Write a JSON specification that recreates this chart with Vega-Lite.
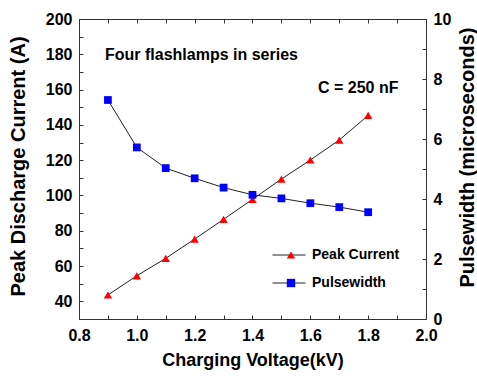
{
  "$schema": "https://vega.github.io/schema/vega-lite/v6.json",
  "width": 347,
  "height": 300,
  "autosize": {"type": "none"},
  "padding": {"left": 79, "top": 19, "right": 51, "bottom": 62},
  "background": "white",
  "config": {
    "view": {"stroke": null},
    "font": "Liberation Sans",
    "axis": {
      "domainColor": "#333333",
      "domainWidth": 1,
      "tickColor": "#333333",
      "tickOpacity": 1,
      "tickWidth": 1,
      "grid": false,
      "labelFont": "Liberation Sans",
      "labelFontSize": 16,
      "labelFontWeight": "bold",
      "labelColor": "black",
      "titleFont": "Liberation Sans",
      "titleFontWeight": "bold",
      "titleColor": "black"
    },
    "legend": {
      "labelFont": "Liberation Sans",
      "labelFontSize": 14,
      "labelFontWeight": "bold",
      "labelColor": "black"
    }
  },
  "data": {
    "values": [
      {"v": 0.9, "series": "Peak Current", "val": 43.6},
      {"v": 1.0, "series": "Peak Current", "val": 54.5},
      {"v": 1.1, "series": "Peak Current", "val": 64.4},
      {"v": 1.2, "series": "Peak Current", "val": 75.3},
      {"v": 1.3, "series": "Peak Current", "val": 86.5},
      {"v": 1.4, "series": "Peak Current", "val": 97.8},
      {"v": 1.5, "series": "Peak Current", "val": 109.3},
      {"v": 1.6, "series": "Peak Current", "val": 120.1},
      {"v": 1.7, "series": "Peak Current", "val": 131.4},
      {"v": 1.8, "series": "Peak Current", "val": 145.4},
      {"v": 0.9, "series": "Pulsewidth", "val": 7.3},
      {"v": 1.0, "series": "Pulsewidth", "val": 5.72},
      {"v": 1.1, "series": "Pulsewidth", "val": 5.03},
      {"v": 1.2, "series": "Pulsewidth", "val": 4.69},
      {"v": 1.3, "series": "Pulsewidth", "val": 4.38},
      {"v": 1.4, "series": "Pulsewidth", "val": 4.14},
      {"v": 1.5, "series": "Pulsewidth", "val": 4.02},
      {"v": 1.6, "series": "Pulsewidth", "val": 3.86},
      {"v": 1.7, "series": "Pulsewidth", "val": 3.73},
      {"v": 1.8, "series": "Pulsewidth", "val": 3.56}
    ]
  },
  "layer": [
    {
      "transform": [{"filter": "datum.series == 'Peak Current'"}],
      "mark": {"type": "line", "strokeWidth": 1},
      "encoding": {
        "x": {
          "field": "v", "type": "quantitative",
          "scale": {"domain": [0.8, 2.0], "nice": false, "zero": false},
          "axis": {
            "orient": "bottom",
            "title": "Charging Voltage(kV)",
            "titleFontSize": 18,
            "titleBaseline": "alphabetic",
            "titleY": 46,
            "values": [0.8, 1.0, 1.2, 1.4, 1.6, 1.8, 2.0],
            "format": ".1f",
            "ticks": false,
            "labelPadding": 8,
            "labelFlush": false,
            "labelOverlap": false
          }
        },
        "y": {
          "field": "val", "type": "quantitative",
          "scale": {"domain": [30, 200], "nice": false, "zero": false},
          "axis": {
            "orient": "left",
            "title": "Peak Discharge Current (A)",
            "titleFontSize": 20,
            "titleAngle": 270,
            "titleAlign": "center",
            "titleBaseline": "middle",
            "titleX": -61,
            "titleY": 147,
            "values": [40, 60, 80, 100, 120, 140, 160, 180, 200],
            "ticks": false,
            "labelPadding": 7,
            "labelOverlap": false
          }
        },
        "stroke": {
          "field": "series", "type": "nominal",
          "scale": {"domain": ["Pulsewidth", "Peak Current"], "range": ["#222222", "#222222"]},
          "legend": {
            "orient": "none", "legendX": 203, "legendY": 229,
            "title": null, "padding": 0,
            "values": ["Peak Current", "Pulsewidth"],
            "symbolType": "M-3,0H3", "symbolSize": 121, "symbolStrokeWidth": 1,
            "labelExpr": "''", "rowPadding": 14
          }
        }
      }
    },
    {
      "transform": [{"filter": "datum.series == 'Peak Current'"}],
      "mark": {"type": "point", "filled": true, "size": 70, "strokeWidth": 0, "opacity": 1},
      "encoding": {
        "x": {"field": "v", "type": "quantitative", "scale": {"domain": [0.8, 2.0], "nice": false, "zero": false}, "axis": null},
        "y": {"field": "val", "type": "quantitative", "scale": {"domain": [30, 200], "nice": false, "zero": false}, "axis": null},
        "fill": {
          "field": "series", "type": "nominal",
          "scale": {"domain": ["Peak Current", "Pulsewidth"], "range": ["#ff0000", "#0000ff"]},
          "legend": {
            "orient": "none", "legendX": 205, "legendY": 229,
            "title": null, "padding": 0,
            "symbolSize": 70, "symbolStrokeWidth": 0, "symbolOpacity": 1,
            "labelOffset": 14, "rowPadding": 14
          }
        },
        "shape": {
          "field": "series", "type": "nominal",
          "scale": {"domain": ["Peak Current", "Pulsewidth"], "range": ["triangle-up", "square"]}
        }
      }
    },
    {
      "transform": [{"filter": "datum.series == 'Peak Current'"}],
      "mark": {"type": "point", "opacity": 0},
      "encoding": {
        "x": {
          "field": "v", "type": "quantitative",
          "scale": {"domain": [0.8, 2.0], "nice": false, "zero": false},
          "axis": {
            "orient": "bottom", "offset": -4, "domain": false, "labels": false, "title": null,
            "values": [0.8, 0.9, 1.0, 1.1, 1.2, 1.3, 1.4, 1.5, 1.6, 1.7, 1.8, 1.9, 2.0],
            "ticks": true, "tickSize": 4
          }
        },
        "y": {
          "field": "val", "type": "quantitative",
          "scale": {"domain": [30, 200], "nice": false, "zero": false},
          "axis": {
            "orient": "left", "offset": -4, "domain": false, "labels": false, "title": null,
            "values": [30, 40, 50, 60, 70, 80, 90, 100, 110, 120, 130, 140, 150, 160, 170, 180, 190, 200],
            "ticks": true, "tickSize": 4
          }
        }
      }
    },
    {
      "transform": [{"filter": "datum.series == 'Pulsewidth'"}],
      "mark": {"type": "line", "strokeWidth": 1},
      "encoding": {
        "x": {
          "field": "v", "type": "quantitative",
          "scale": {"domain": [0.8, 2.0], "nice": false, "zero": false},
          "axis": {"orient": "top", "title": null, "labels": false, "ticks": false}
        },
        "y": {
          "field": "val", "type": "quantitative",
          "scale": {"domain": [0, 10], "nice": false, "zero": false},
          "axis": {
            "orient": "right",
            "title": "Pulsewidth (microseconds)",
            "titleFontSize": 20,
            "titleAngle": 270,
            "titleAlign": "center",
            "titleBaseline": "middle",
            "titleX": 41,
            "titleY": 138,
            "values": [0, 2, 4, 6, 8, 10],
            "ticks": false,
            "labelPadding": 7,
            "labelOverlap": false
          }
        },
        "stroke": {"field": "series", "type": "nominal"}
      }
    },
    {
      "transform": [{"filter": "datum.series == 'Pulsewidth'"}],
      "mark": {"type": "point", "filled": true, "size": 60, "strokeWidth": 0, "opacity": 1},
      "encoding": {
        "x": {"field": "v", "type": "quantitative", "scale": {"domain": [0.8, 2.0], "nice": false, "zero": false}, "axis": null},
        "y": {"field": "val", "type": "quantitative", "scale": {"domain": [0, 10], "nice": false, "zero": false}, "axis": null},
        "fill": {"field": "series", "type": "nominal"},
        "shape": {"field": "series", "type": "nominal"}
      }
    },
    {
      "transform": [{"filter": "datum.series == 'Pulsewidth'"}],
      "mark": {"type": "point", "opacity": 0},
      "encoding": {
        "x": {
          "field": "v", "type": "quantitative",
          "scale": {"domain": [0.8, 2.0], "nice": false, "zero": false},
          "axis": {
            "orient": "top", "offset": -4, "domain": false, "labels": false, "title": null,
            "values": [0.8, 0.9, 1.0, 1.1, 1.2, 1.3, 1.4, 1.5, 1.6, 1.7, 1.8, 1.9, 2.0],
            "ticks": true, "tickSize": 4
          }
        },
        "y": {
          "field": "val", "type": "quantitative",
          "scale": {"domain": [0, 10], "nice": false, "zero": false},
          "axis": {
            "orient": "right", "offset": -4, "domain": false, "labels": false, "title": null,
            "values": [0, 1, 2, 3, 4, 5, 6, 7, 8, 9, 10],
            "ticks": true, "tickSize": 4
          }
        }
      }
    },
    {
      "transform": [{"filter": "datum.series == 'Peak Current' && datum.v == 0.9"}],
      "mark": {"type": "text", "text": "Four flashlamps in series", "align": "left", "baseline": "alphabetic", "fontSize": 16, "fontWeight": "bold", "fill": "black", "font": "Liberation Sans"},
      "encoding": {
        "x": {"datum": 0.89, "type": "quantitative", "scale": {"domain": [0.8, 2.0], "nice": false, "zero": false}, "axis": null},
        "y": {"datum": 176.8, "type": "quantitative", "scale": {"domain": [30, 200], "nice": false, "zero": false}, "axis": null}
      }
    },
    {
      "transform": [{"filter": "datum.series == 'Peak Current' && datum.v == 0.9"}],
      "mark": {"type": "text", "text": "C = 250 nF", "align": "left", "baseline": "alphabetic", "fontSize": 16, "fontWeight": "bold", "fill": "black", "font": "Liberation Sans"},
      "encoding": {
        "x": {"datum": 1.6265, "type": "quantitative", "scale": {"domain": [0.8, 2.0], "nice": false, "zero": false}, "axis": null},
        "y": {"datum": 158.2, "type": "quantitative", "scale": {"domain": [30, 200], "nice": false, "zero": false}, "axis": null}
      }
    }
  ],
  "resolve": {"scale": {"y": "independent"}, "axis": {"x": "independent", "y": "independent"}}
}
